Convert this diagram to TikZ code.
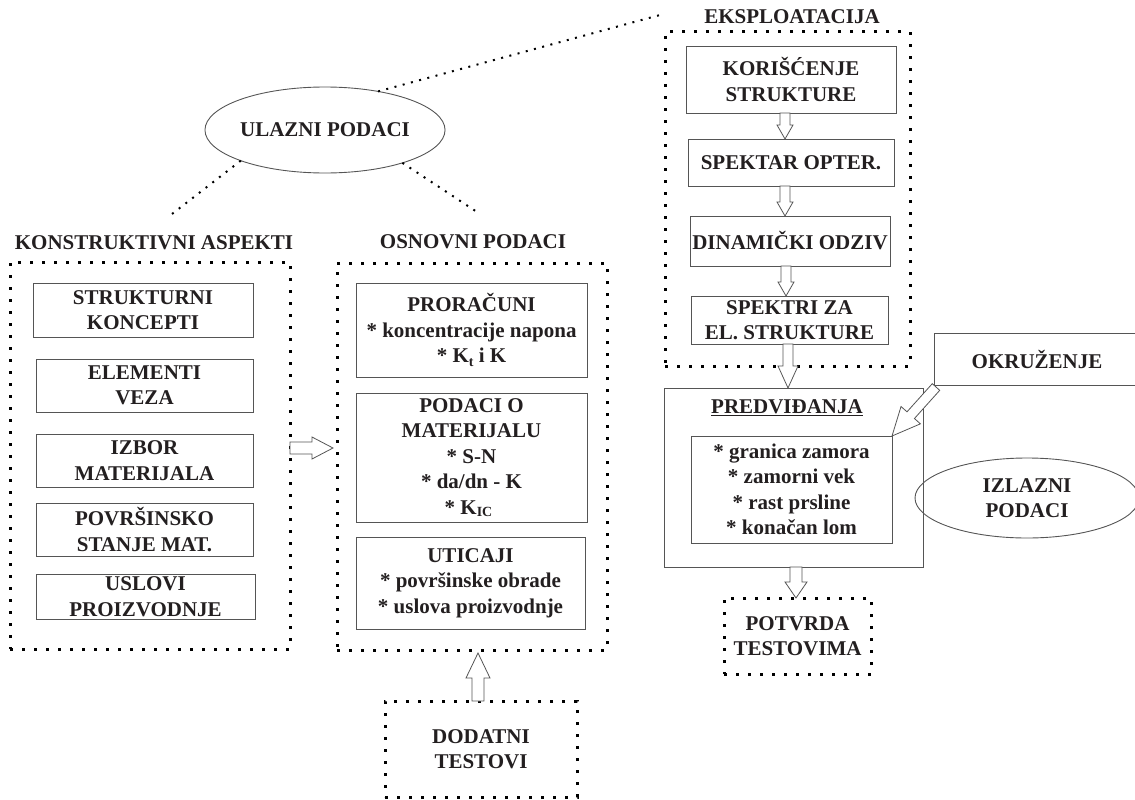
\documentclass[tikz,border=0pt]{standalone}
\usepackage{fontspec}
\setmainfont{Liberation Serif}
\usetikzlibrary{calc,shapes.geometric}
\definecolor{ln}{HTML}{555555}
\definecolor{tx}{HTML}{231F20}
\tikzset{
  every node/.style={outer sep=0pt, inner sep=0pt, text=tx,
    font=\fontsize{21}{25.5}\selectfont\bfseries, align=center},
  box/.style={draw=ln, line width=0.9pt},
  dotbox/.style={draw=black, line width=3pt, dash pattern=on 3pt off 9pt},
  dotline/.style={draw=black, line width=2pt, dash pattern=on 2pt off 6.5pt},
  hollow/.style={draw=ln, line width=0.8pt, fill=white, line join=miter},
  oval/.style={ellipse, draw=ln, line width=0.9pt},
}
% hollow block arrow: from, to, shaft half width, head half width, head length
\newcommand\harrow[5]{%
  \coordinate (hS) at (#1);
  \coordinate (hE) at (#2);
  \coordinate (hB) at ($(hE)!#5pt!(hS)$);
  \draw[hollow] ($(hS)!#3pt!90:(hE)$) -- ($(hB)!#3pt!90:(hE)$)
    -- ($(hB)!#4pt!90:(hE)$) -- (hE) -- ($(hB)!#4pt!-90:(hE)$)
    -- ($(hB)!#3pt!-90:(hE)$) -- ($(hS)!#3pt!-90:(hE)$) -- cycle;
}
\begin{document}
\begin{tikzpicture}[x=1pt,y=-1pt]
\useasboundingbox (0,0) rectangle (1135,800);

% ---------- input ellipse ----------
\node[oval, minimum width=225pt, minimum height=86pt] (ul) at (325,130) {ULAZNI PODACI};
\coordinate (cK) at (172,214);
\coordinate (cO) at (477,212);
\coordinate (cE) at (660,15);
\draw[dotline] (ul.200) -- (cK);
\draw[dotline] (ul.337) -- (cO);
\draw[dotline] (ul.36) -- (cE);

% ---------- left group ----------
\node[anchor=base] (tK) at (154,249) {KONSTRUKTIVNI ASPEKTI};
\node[dotbox, minimum width=280pt, minimum height=387pt] (lb) at (150,455.5) {};
\node[box, minimum width=220pt, minimum height=54pt] (s1) at (143,310) {STRUKTURNI\\KONCEPTI};
\node[box, minimum width=217pt, minimum height=53pt] (s2) at (144.5,385.5) {ELEMENTI\\VEZA};
\node[box, minimum width=217pt, minimum height=53pt] (s3) at (144.5,460.5) {IZBOR\\MATERIJALA};
\node[box, minimum width=217pt, minimum height=53pt] (s4) at (144.5,529.5) {POVRŠINSKO\\STANJE MAT.};
\node[box, minimum width=219pt, minimum height=45pt] (s5) at (145.5,596.5) {USLOVI\\PROIZVODNJE};

% ---------- middle group ----------
\node[anchor=base] (tO) at (473,248) {OSNOVNI PODACI};
\node[dotbox, minimum width=270pt, minimum height=387pt] (mb) at (472,456.5) {};
\node[box, minimum width=231pt, minimum height=94pt] (m1) at (471.5,330)
  {PRORAČUNI\\* koncentracije napona\\* K\raisebox{-4pt}{\fontsize{14}{14}\selectfont t} i K};
\node[box, minimum width=231pt, minimum height=129pt] (m2) at (471.5,457.5)
  {PODACI O\\MATERIJALU\\* S-N\hspace*{30pt}\\* da/dn - K\hspace*{24pt}\\* K\raisebox{-2pt}{\fontsize{14}{14}\selectfont IC}\hspace*{6pt}};
\node[box, minimum width=229pt, minimum height=92pt] (m3) at (470.5,583)
  {UTICAJI\\* površinske obrade\\* uslova proizvodnje};
\node[dotbox, minimum width=192pt, minimum height=96pt] (dod) at (481,749) {DODATNI\\TESTOVI};

% ---------- right column ----------
\node[anchor=base] (tE) at (792,24) {EKSPLOATACIJA};
\node[dotbox, minimum width=245pt, minimum height=334pt] (eks) at (787.5,199) {};
\node[box, minimum width=210pt, minimum height=67pt] (r1) at (791,79.5) {KORIŠĆENJE\\STRUKTURE};
\node[box, minimum width=206pt, minimum height=47pt] (r2) at (791,162.5) {SPEKTAR OPTER.};
\node[box, minimum width=200pt, minimum height=50pt] (r3) at (790,241) {DINAMIČKI ODZIV};
\node[box, minimum width=197pt, minimum height=48pt] (r4) at (789.5,320) {SPEKTRI ZA\\EL. STRUKTURE};

\node[box, minimum width=259pt, minimum height=179pt] (pred) at (793.5,477.5) {};
\node[anchor=base] (tP) at (787,413) {\underline{PREDVIĐANJA}};
\node[box, minimum width=201pt, minimum height=107pt] (pin) at (791.5,489.5)
  {* granica zamora\\* zamorni vek\\* rast prsline\\* konačan lom};
\node[box, minimum width=206pt, minimum height=52pt] (okr) at (1037,359) {OKRUŽENJE};
\node[oval, minimum width=224pt, minimum height=80pt] (izl) at (1027,498) {IZLAZNI\\PODACI};
\node[dotbox, minimum width=147pt, minimum height=76pt] (pot) at (797.5,636) {POTVRDA\\TESTOVIMA};

% ---------- hollow arrows ----------
\harrow{$(lb.east)+(0,-7.5)$}{$(mb.west)+(-4,-8.5)$}{6}{11}{21}
\harrow{$(dod.north)+(-3,0)$}{$(mb.south)+(6,3)$}{6}{12}{25}
\harrow{$(r1.south)+(-6,0)$}{$(r2.north)+(-6,0)$}{5}{8}{14}
\harrow{$(r2.south)+(-6,0)$}{$(r3.north)+(-5,0)$}{5}{8}{14}
\harrow{$(r3.south)+(-4,0)$}{$(r4.north)+(-3.5,0)$}{5}{8}{14}
\harrow{$(r4.south)+(-1.5,0)$}{$(pred.north)+(-5.5,0)$}{5}{10}{22}
\harrow{$(pred.south)+(2.5,0)$}{$(pot.north)+(-1.5,0)$}{6}{11}{16}
\harrow{$(okr.south west)+(2,2)$}{pin.north east}{5}{13}{28}
\end{tikzpicture}
\end{document}
